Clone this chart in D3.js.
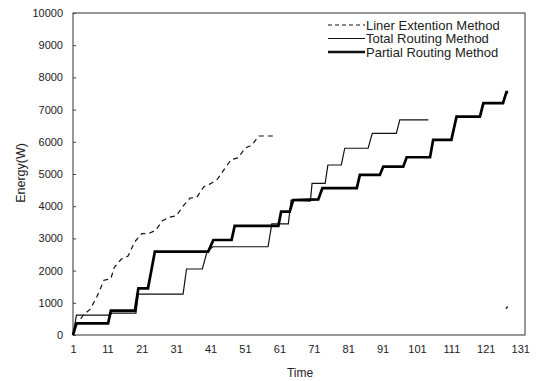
<!DOCTYPE html>
<html>
<head>
<meta charset="utf-8">
<script src="https://cdn.jsdelivr.net/npm/d3@7"></script>
<style>
  body { margin: 0; background: #fff; }
  svg text { font-family: "Liberation Sans", Arial, sans-serif; fill: #222; }
</style>
</head>
<body>
<svg id="chart" width="538" height="381"></svg>
<script>
// values: [time, energy]
const linerExtention = [
  [1, 0], [2, 300], [4, 620], [6, 800], [8, 1200], [10, 1700], [12, 1750], [13, 2100],
  [15, 2350], [17, 2450], [19, 2900], [21, 3150], [23, 3150], [25, 3250], [27, 3550],
  [29, 3660], [31, 3700], [33, 4000], [35, 4250], [37, 4280], [39, 4600], [41, 4700],
  [43, 4840], [45, 5150], [47, 5450], [49, 5500], [51, 5800], [53, 5900], [55, 6180],
  [57, 6180], [59.7, 6180]
];
const totalRouting = [
  [1, 0], [2, 620], [11.8, 620], [12.3, 680], [19.3, 680], [20, 1270], [33, 1270],
  [34, 2050], [38.6, 2050], [40, 2600], [41.7, 2740], [57.7, 2740], [58.8, 3450],
  [63.6, 3450], [64.4, 4190], [70, 4160], [70.5, 4710], [74.3, 4710], [75.1, 5280],
  [79, 5280], [80, 5800], [86.8, 5800], [88, 6260], [95, 6260], [96, 6680], [104.3, 6680]
];
const partialRouting = [
  [1, 0], [2, 360], [11.2, 360], [12, 760], [19, 760], [20, 1450], [22.8, 1450],
  [24.8, 2590], [40.3, 2590], [41.8, 2950], [47.1, 2950], [48, 3390], [60.7, 3390],
  [61.5, 3830], [64, 3830], [65, 4190], [72.3, 4210], [73.5, 4560], [83.5, 4560],
  [84.4, 4970], [90.2, 4970], [91.2, 5230], [97, 5230], [98, 5520], [104.8, 5520],
  [105.7, 6060], [111, 6060], [112.5, 6780], [119.3, 6780], [120.3, 7200], [126, 7200],
  [127, 7540], [127.5, 7540]
];
const strayMark = [[126.8, 820], [127.4, 880]];

const xTicks = [1, 11, 21, 31, 41, 51, 61, 71, 81, 91, 101, 111, 121, 131];
const yTicks = [0, 1000, 2000, 3000, 4000, 5000, 6000, 7000, 8000, 9000, 10000];
const seriesNames = ["Liner Extention Method", "Total Routing Method", "Partial Routing Method"];

const svg = d3.select("#chart");
const plotLeft = 73, plotRight = 525, plotTop = 13, plotBottom = 335;

const x = d3.scaleLinear().domain([1, 132.4]).range([plotLeft, plotRight]);
const y = d3.scaleLinear().domain([0, 10000]).range([plotBottom, plotTop]);

// frame
svg.append("rect")
  .attr("x", plotLeft).attr("y", plotTop)
  .attr("width", plotRight - plotLeft).attr("height", plotBottom - plotTop)
  .attr("fill", "none").attr("stroke", "#333").attr("stroke-width", 1);

// y axis ticks and labels
const yAxis = svg.append("g").attr("transform", `translate(${plotLeft},0)`)
  .call(d3.axisLeft(y).tickValues(yTicks).tickSize(-3).tickPadding(10).tickFormat(d3.format("d")));
yAxis.select(".domain").remove();
yAxis.selectAll("line").attr("stroke", "#444");
yAxis.selectAll("text").style("font-size", "11px").attr("fill", "#222");

// x axis ticks and labels
const xAxis = svg.append("g").attr("transform", `translate(0,${plotBottom})`)
  .call(d3.axisBottom(x).tickValues(xTicks).tickSize(0).tickPadding(10).tickFormat(d3.format("d")));
xAxis.select(".domain").remove();
xAxis.selectAll("text").style("font-size", "11px").attr("fill", "#222");

// axis titles
svg.append("text")
  .attr("transform", "translate(21,173) rotate(-90)")
  .attr("text-anchor", "middle")
  .attr("dominant-baseline", "central")
  .style("font-size", "12.5px")
  .text("Energy(W)");

svg.append("text")
  .attr("x", 300).attr("y", 377)
  .attr("text-anchor", "middle")
  .style("font-size", "12px")
  .text("Time");

const line = d3.line().x(d => x(d[0])).y(d => y(d[1]));

svg.append("path").datum(linerExtention)
  .attr("d", line).attr("fill", "none")
  .attr("stroke", "#111").attr("stroke-width", 1.2).attr("stroke-dasharray", "5,4");

svg.append("path").datum(totalRouting)
  .attr("d", line).attr("fill", "none")
  .attr("stroke", "#111").attr("stroke-width", 1.2);

svg.append("path").datum(partialRouting)
  .attr("d", line).attr("fill", "none")
  .attr("stroke", "#000").attr("stroke-width", 2.7);

svg.append("path").datum(strayMark)
  .attr("d", line).attr("fill", "none")
  .attr("stroke", "#333").attr("stroke-width", 1.5);

// legend
const legendStyles = [
  { width: 1.2, dash: "4,3" },
  { width: 1.2, dash: null },
  { width: 2.7, dash: null }
];
const legend = svg.append("g").attr("transform", "translate(328,25)");
seriesNames.forEach((name, i) => {
  const row = legend.append("g").attr("transform", `translate(0,${i * 13.5})`);
  row.append("line")
    .attr("x1", 0).attr("x2", 37).attr("y1", 0).attr("y2", 0)
    .attr("stroke", "#111")
    .attr("stroke-width", legendStyles[i].width)
    .attr("stroke-dasharray", legendStyles[i].dash);
  row.append("text")
    .attr("x", 38).attr("y", 0)
    .attr("dominant-baseline", "central")
    .style("font-size", "13px")
    .text(name);
});
</script>
</body>
</html>
